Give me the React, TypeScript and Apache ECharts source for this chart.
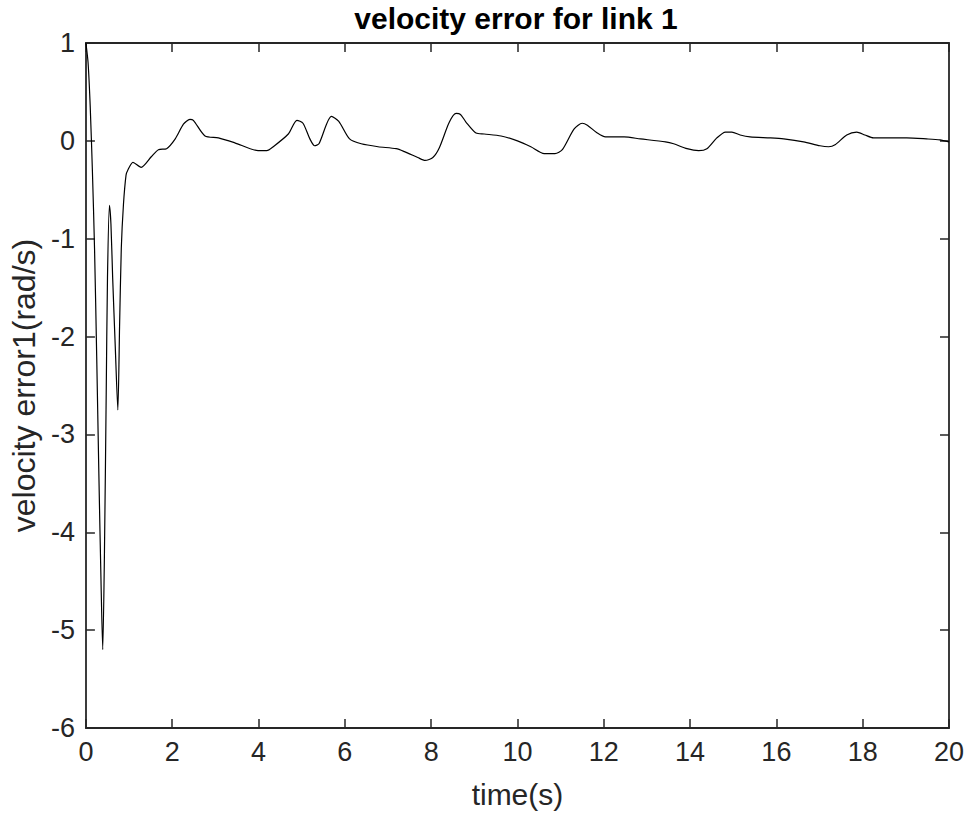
import React, { useEffect, useRef } from "react";
import * as echarts from "echarts";

const timeS = [
  0, 0.05, 0.1, 0.15, 0.2, 0.25, 0.3, 0.35, 0.39, 0.43, 0.47, 0.5, 0.545, 0.58, 0.62, 0.68, 0.74, 0.78, 0.82, 0.87, 0.93, 0.97, 1.09, 1.28, 1.52, 1.68, 1.87, 2.07, 2.26, 2.41, 2.49,
  2.76, 3.07, 3.45, 3.99, 4.19, 4.34, 4.69, 4.89, 5.03, 5.19, 5.3, 5.4, 5.69, 5.86, 6.11, 6.38, 6.77, 7.19, 7.38, 7.69, 7.86, 8.04, 8.19, 8.42, 8.58, 8.68, 8.81, 9.04, 9.23, 9.62,
  10.0, 10.31, 10.62, 10.87, 11.04, 11.31, 11.5, 11.62, 11.85, 12.04, 12.47, 12.85, 13.43, 13.62, 13.93, 14.2, 14.39, 14.62, 14.82, 14.97, 15.16, 15.39, 15.86, 16.17, 16.63,
  17.01, 17.21, 17.36, 17.63, 17.86, 18.05, 18.25, 18.48, 19.02, 19.48, 19.79, 20.0,
];
const velocityError = [
  1.0, 0.8, 0.35, -0.3, -1.1, -2.2, -3.4, -4.5, -5.2, -4.2, -2.6, -1.4, -0.66, -0.85, -1.4, -2.1, -2.75, -1.9, -1.1, -0.65, -0.35, -0.3, -0.22, -0.27, -0.16, -0.09, -0.08, 0.02, 0.17, 0.22, 0.21,
  0.05, 0.03, -0.02, -0.1, -0.1, -0.06, 0.07, 0.21, 0.18, 0.02, -0.05, -0.03, 0.25, 0.2, 0.02, -0.03, -0.06, -0.08, -0.11, -0.17, -0.2, -0.17, -0.07, 0.19, 0.28, 0.27, 0.19, 0.08, 0.07, 0.05,
  0.0, -0.06, -0.13, -0.13, -0.09, 0.12, 0.18, 0.16, 0.08, 0.04, 0.04, 0.02, -0.01, -0.03, -0.08, -0.1, -0.08, 0.03, 0.09, 0.09, 0.06, 0.04, 0.03, 0.02, -0.01,
  -0.05, -0.06, -0.04, 0.06, 0.09, 0.06, 0.03, 0.03, 0.03, 0.02, 0.01, -0.01,
];

const titleText = "velocity error for link 1";
const xName = "time(s)";
const yName = "velocity error1(rad/s)";

const axisColor = "#262626";
const font = "'Liberation Sans', Arial, sans-serif";

export default function App() {
  const ref = useRef<HTMLDivElement>(null);
  useEffect(() => {
    if (!ref.current) return;
    const chart = echarts.init(ref.current, null, { renderer: "svg" });
    const tickCommon = { show: true, inside: true, length: 9, lineStyle: { color: axisColor, width: 1.5 } };
    const lineCommon = { show: true, onZero: false, lineStyle: { color: axisColor, width: 1.8 } };
    chart.setOption({
      animation: false,
      backgroundColor: "#ffffff",
      graphic: [
        {
          type: "text",
          x: 516,
          y: 18,
          style: {
            text: titleText,
            fontFamily: font,
            fontSize: 30,
            fontWeight: "bold",
            fill: "#000000",
            align: "center",
            verticalAlign: "middle",
          },
        },
      ],
      grid: { left: 84, right: 20, top: 43, bottom: 90, show: false },
      xAxis: [
        {
          type: "value",
          min: 0,
          max: 20,
          interval: 2,
          name: xName,
          nameLocation: "middle",
          nameGap: 51,
          nameTextStyle: { fontFamily: font, fontSize: 30, color: axisColor },
          axisLine: lineCommon,
          axisTick: tickCommon,
          axisLabel: { fontFamily: font, fontSize: 27, color: axisColor, margin: 10 },
          splitLine: { show: false },
        },
        {
          type: "value",
          position: "top",
          min: 0,
          max: 20,
          interval: 2,
          axisLine: lineCommon,
          axisTick: tickCommon,
          axisLabel: { show: false },
          splitLine: { show: false },
        },
      ],
      yAxis: [
        {
          type: "value",
          min: -6,
          max: 1,
          interval: 1,
          name: yName,
          nameLocation: "middle",
          nameGap: 37,
          nameTextStyle: { fontFamily: font, fontSize: 32, color: axisColor },
          axisLine: lineCommon,
          axisTick: tickCommon,
          axisLabel: { fontFamily: font, fontSize: 27, color: axisColor, margin: 11 },
          splitLine: { show: false },
        },
        {
          type: "value",
          position: "right",
          min: -6,
          max: 1,
          interval: 1,
          axisLine: lineCommon,
          axisTick: tickCommon,
          axisLabel: { show: false },
          splitLine: { show: false },
        },
      ],
      series: [
        {
          type: "line",
          data: timeS.map((t, i) => [t, velocityError[i]]),
          showSymbol: false,
          smooth: 0.25,
          lineStyle: { color: "#000000", width: 1.2 },
          xAxisIndex: 0,
          yAxisIndex: 0,
        },
      ],
    });
    return () => chart.dispose();
  }, []);
  return <div ref={ref} style={{ position: "absolute", left: 0, top: 0, width: 969, height: 818 }} />;
}
